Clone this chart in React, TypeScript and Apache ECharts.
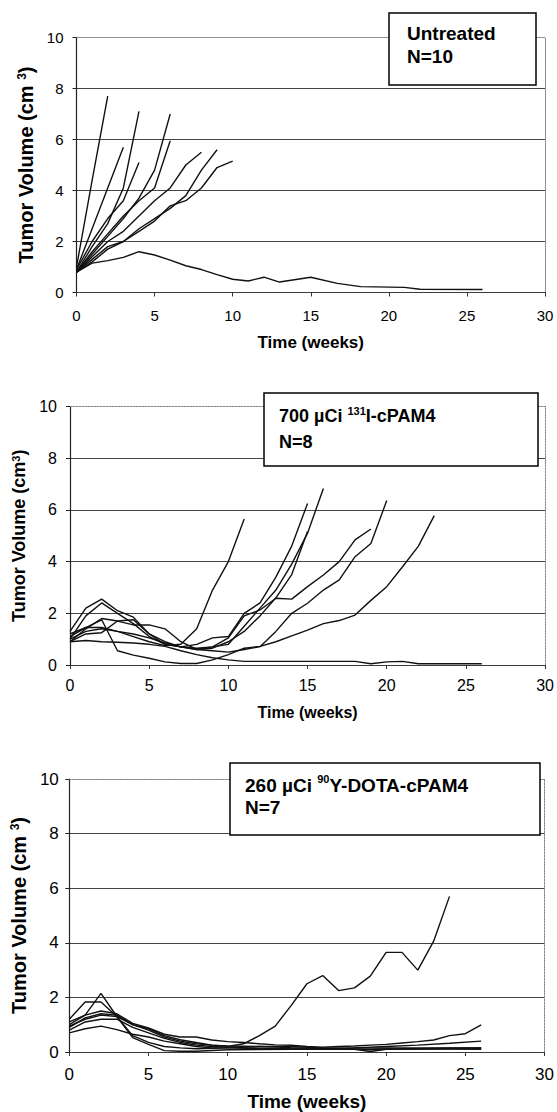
import React, { useEffect, useRef } from "react";
import * as echarts from "echarts";

// ---------- DATA ----------
const weekTicks = [0, 5, 10, 15, 20, 25, 30];
const volumeTicks = [0, 2, 4, 6, 8, 10];

// Panel 1: Untreated (N=10) — [week, volume cm3]
const untreated1 = [[0, 1.0], [1, 4.4], [2, 7.7]];
const untreated2 = [[0, 0.9], [1, 2.5], [2, 4.1], [3, 5.7]];
const untreated3 = [[0, 0.8], [1, 1.8], [2, 2.7], [3, 4.1], [4, 7.1]];
const untreated4 = [[0, 0.9], [1, 2.0], [2, 2.9], [3, 3.6], [4, 5.1]];
const untreated5 = [[0, 0.8], [1, 1.5], [2, 2.2], [3, 2.9], [4, 3.7], [5, 4.8], [6, 7.0]];
const untreated6 = [[0, 0.8], [1, 1.6], [2, 2.3], [3, 3.0], [4, 3.6], [5, 4.1], [6, 5.95]];
const untreated7 = [[0, 0.8], [1, 1.4], [2, 2.0], [3, 2.4], [4, 3.0], [5, 3.6], [6, 4.1], [7, 5.0], [8, 5.5]];
const untreated8 = [[0, 0.8], [1, 1.3], [2, 1.8], [3, 2.0], [4, 2.5], [5, 2.9], [6, 3.3], [7, 3.8], [8, 4.8], [9, 5.6]];
const untreated9 = [[0, 0.8], [1, 1.2], [2, 1.7], [3, 2.0], [4, 2.4], [5, 2.8], [6, 3.4], [7, 3.6], [8, 4.1], [9, 4.9], [10, 5.15]];
const untreated10 = [[0, 0.8], [1, 1.15], [2, 1.25], [3, 1.38], [4, 1.6], [5, 1.47], [6, 1.27], [7, 1.05], [8, 0.9], [9, 0.7], [10, 0.52], [11, 0.45], [12, 0.6], [13, 0.41], [15, 0.6], [16.7, 0.36], [18.2, 0.23], [21, 0.2], [22, 0.13], [26, 0.12]];

// Panel 2: 700 µCi 131I-cPAM4 (N=8)
const iodine1 = [[0, 1.0], [1, 1.3], [2, 1.4], [3, 1.3], [4, 1.1], [5, 0.9], [6, 0.75], [7, 0.8], [8, 1.4], [9, 2.9], [10, 4.0], [11, 5.65]];
const iodine2 = [[0, 1.3], [1, 2.2], [2, 2.55], [3, 2.1], [4, 1.85], [5, 1.2], [6, 0.8], [7, 0.7], [8, 0.8], [9, 1.05], [10, 1.1], [11, 2.0], [12, 2.4], [13, 3.4], [14, 4.6], [15, 6.25]];
const iodine3 = [[0, 1.0], [1, 1.9], [2, 2.4], [3, 2.0], [4, 1.6], [5, 1.1], [6, 0.8], [7, 0.7], [8, 0.65], [9, 0.7], [10, 0.8], [11, 1.5], [12, 2.2], [13, 2.9], [14, 3.9], [15, 5.1], [16, 6.83]];
const iodine4 = [[0, 0.9], [1, 1.4], [2, 1.8], [3, 1.7], [4, 1.75], [5, 1.2], [6, 0.9], [7, 0.7], [8, 0.6], [9, 0.65], [10, 0.9], [11, 1.3], [12, 1.9], [13, 2.6], [14, 3.5], [15, 5.16]];
const iodine5 = [[0, 1.1], [1, 1.45], [2, 1.45], [3, 1.3], [4, 1.2], [5, 1.05], [6, 0.85], [7, 0.7], [8, 0.6], [9, 0.7], [10, 1.05], [11, 1.9], [12, 2.13], [13, 2.58], [14, 2.55], [15, 3.03], [16, 3.48], [17, 4.0], [18, 4.84], [19, 5.26]];
const iodine6 = [[0, 0.9], [1, 1.2], [2, 1.25], [3, 1.7], [4, 1.55], [5, 1.55], [6, 1.4], [7, 0.9], [8, 0.6], [9, 0.55], [10, 0.5], [11, 0.6], [12, 0.71], [13, 1.3], [14, 2.0], [15, 2.39], [16, 2.9], [17, 3.29], [18, 4.19], [19, 4.7], [20, 6.36]];
const iodine7 = [[0, 1.2], [1, 1.45], [2, 1.75], [3, 0.55], [4, 0.38], [5, 0.26], [6, 0.12], [7, 0.06], [8, 0.06], [9, 0.2], [10, 0.4], [11, 0.65], [12, 0.72], [13, 0.9], [14, 1.13], [15, 1.35], [16, 1.6], [17, 1.72], [18, 1.93], [19, 2.5], [20, 3.03], [21, 3.8], [22, 4.6], [23, 5.78]];
const iodine8 = [[0, 0.9], [1, 0.95], [2, 0.9], [3, 0.88], [4, 0.85], [5, 0.8], [6, 0.72], [7, 0.55], [8, 0.4], [9, 0.28], [10, 0.2], [11, 0.14], [18, 0.14], [19, 0.05], [20, 0.12], [21, 0.14], [22, 0.05], [26, 0.05]];

// Panel 3: 260 µCi 90Y-DOTA-cPAM4 (N=7)
const yttrium1 = [[0, 0.9], [1, 1.25], [2, 1.4], [3, 1.35], [4, 1.0], [5, 0.85], [6, 0.6], [7, 0.45], [8, 0.35], [9, 0.25], [10, 0.2], [11, 0.3], [12, 0.6], [13, 0.95], [14, 1.7], [15, 2.5], [16, 2.8], [17, 2.25], [18, 2.35], [19, 2.78], [20, 3.65], [21, 3.65], [22, 3.0], [23, 4.06], [24, 5.7]];
const yttrium2 = [[0, 1.1], [1, 1.35], [2, 1.5], [3, 1.4], [4, 1.05], [5, 0.88], [6, 0.65], [7, 0.55], [8, 0.55], [9, 0.44], [10, 0.38], [11, 0.35], [12, 0.3], [13, 0.26], [14, 0.25], [15, 0.2], [16, 0.18], [17, 0.2], [18, 0.22], [19, 0.25], [20, 0.28], [21, 0.33], [22, 0.38], [23, 0.44], [24, 0.6], [25, 0.67], [26, 0.99]];
const yttrium3 = [[0, 0.95], [1, 1.2], [2, 1.35], [3, 1.3], [4, 1.0], [5, 0.8], [6, 0.55], [7, 0.4], [8, 0.3], [9, 0.25], [10, 0.22], [12, 0.2], [14, 0.16], [16, 0.14], [18, 0.15], [20, 0.2], [22, 0.25], [24, 0.32], [26, 0.4]];
const yttrium4 = [[0, 1.0], [1, 1.35], [2, 2.15], [3, 1.3], [4, 0.53], [5, 0.28], [6, 0.05], [7, 0.03], [8, 0.03], [10, 0.08], [14, 0.1], [18, 0.1], [22, 0.12], [26, 0.13]];
const yttrium5 = [[0, 1.2], [1, 1.83], [2, 1.83], [3, 1.3], [4, 0.6], [5, 0.35], [6, 0.2], [7, 0.15], [8, 0.12], [10, 0.15], [12, 0.2], [14, 0.2], [16, 0.15], [18, 0.1], [19, 0.02], [20, 0.1], [22, 0.12], [26, 0.1]];
const yttrium6 = [[0, 0.7], [1, 0.85], [2, 0.95], [3, 0.82], [4, 0.65], [5, 0.55], [6, 0.4], [7, 0.3], [8, 0.2], [9, 0.15], [10, 0.15], [12, 0.12], [14, 0.1], [16, 0.12], [18, 0.15], [22, 0.15], [26, 0.15]];
const yttrium7 = [[0, 0.8], [1, 1.1], [2, 1.2], [3, 1.2], [4, 0.9], [5, 0.7], [6, 0.5], [7, 0.35], [8, 0.25], [9, 0.2], [10, 0.18], [11, 0.15], [14, 0.12], [18, 0.1], [19, 0.08], [20, 0.1], [24, 0.14], [26, 0.15]];

const untreatedLines = [untreated1, untreated2, untreated3, untreated4, untreated5, untreated6, untreated7, untreated8, untreated9, untreated10];
const iodineLines = [iodine1, iodine2, iodine3, iodine4, iodine5, iodine6, iodine7, iodine8];
const yttriumLines = [yttrium1, yttrium2, yttrium3, yttrium4, yttrium5, yttrium6, yttrium7];

const xTitle = "Time (weeks)";

// ---------- LAYOUT ----------
const FONT = "'Liberation Sans', Arial, Helvetica, sans-serif";

const panels = [
  {
    lines: untreatedLines,
    grid: { left: 76.5, top: 37.5, width: 468.5, height: 255 },
    tickSize: 15, tickMarginX: 15, tickMarginY: 13,
    xTitleSize: 17, xNameGap: 41,
    yName: "{a|Tumor Volume (cm }{s|3}{a|)}", yTitleSize: 20, yNameGap: 39,
  },
  {
    lines: iodineLines,
    grid: { left: 70, top: 406.5, width: 476, height: 258.5 },
    tickSize: 16, tickMarginX: 12.5, tickMarginY: 13,
    xTitleSize: 16, xNameGap: 39,
    yName: "{a|Tumor Volume (cm}{s|3}{a|)}", yTitleSize: 18, yNameGap: 37,
  },
  {
    lines: yttriumLines,
    grid: { left: 69.3, top: 779, width: 476.7, height: 273.7 },
    tickSize: 17, tickMarginX: 14, tickMarginY: 10.5,
    xTitleSize: 19, xNameGap: 40,
    yName: "{a|Tumor Volume (cm }{s|3}{a|)}", yTitleSize: 20, yNameGap: 32,
  },
];

const legends = [
  { box: [389, 13, 147, 72], tx: 407, y1: 33, y2: 56, size: 19, line1: "{b|Untreated}", line2: "N=10" },
  { box: [264, 393, 274, 73], tx: 279, y1: 416, y2: 442, size: 18, line1: "{b|700 µCi }{s|131}{b|I-cPAM4}", line2: "N=8" },
  { box: [230, 763, 310, 72], tx: 245, y1: 785, y2: 807, size: 19, line1: "{b|260 µCi }{s|90}{b|Y-DOTA-cPAM4}", line2: "N=7" },
];

export default function App() {
  const ref = useRef<HTMLDivElement>(null);
  useEffect(() => {
    document.body.style.margin = "0";
    if (!ref.current) return;
    const chart = echarts.init(ref.current, undefined, { renderer: "svg" });

    const grids: any[] = [];
    const xAxes: any[] = [];
    const yAxes: any[] = [];
    const series: any[] = [];
    const graphics: any[] = [];

    panels.forEach((p, i) => {
      grids.push({ ...p.grid, containLabel: false });
      xAxes.push({
        type: "value", gridIndex: i, min: 0, max: 30, interval: 5, position: "bottom",
        name: xTitle, nameLocation: "middle", nameGap: p.xNameGap,
        nameTextStyle: { fontFamily: FONT, fontSize: p.xTitleSize, fontWeight: "bold", color: "#000" },
        axisLine: { show: true, onZero: false, lineStyle: { color: "#333", width: 1.2, type: [2, 1] } },
        axisTick: { show: true, length: 4, lineStyle: { color: "#333" } },
        axisLabel: { fontFamily: FONT, fontSize: p.tickSize, color: "#000", margin: p.tickMarginX,
          formatter: (v: number) => (weekTicks.includes(v) ? String(v) : "") },
        splitLine: { show: false },
      });
      xAxes.push({
        type: "value", gridIndex: i, min: 0, max: 30, position: "top",
        axisLine: { show: true, onZero: false, lineStyle: { color: "#888", width: 1, type: [2, 1] } },
        axisTick: { show: false }, axisLabel: { show: false }, splitLine: { show: false },
      });
      yAxes.push({
        type: "value", gridIndex: i, min: 0, max: 10, interval: 2, position: "left",
        name: p.yName, nameLocation: "middle", nameGap: p.yNameGap, nameRotate: 90,
        nameTextStyle: {
          fontFamily: FONT, fontSize: p.yTitleSize, fontWeight: "bold", color: "#000",
          rich: {
            a: { fontFamily: FONT, fontSize: p.yTitleSize, fontWeight: "bold", color: "#000" },
            s: { fontFamily: FONT, fontSize: Math.round(p.yTitleSize * 0.62), fontWeight: "bold", color: "#000", verticalAlign: "top" },
          },
        },
        axisLine: { show: true, onZero: false, lineStyle: { color: "#222", width: 1.2 } },
        axisTick: { show: true, length: 4, lineStyle: { color: "#222" } },
        axisLabel: { fontFamily: FONT, fontSize: p.tickSize, color: "#000", margin: p.tickMarginY,
          formatter: (v: number) => (volumeTicks.includes(v) ? String(v) : "") },
        splitLine: { show: true, showMinLine: false, showMaxLine: false, lineStyle: { color: "#444", width: 1 } },
      });
      yAxes.push({
        type: "value", gridIndex: i, min: 0, max: 10, position: "right",
        axisLine: { show: true, onZero: false, lineStyle: { color: "#888", width: 1, type: [2, 1] } },
        axisTick: { show: false }, axisLabel: { show: false }, splitLine: { show: false },
      });
      p.lines.forEach((d) => {
        series.push({
          type: "line", xAxisIndex: 2 * i, yAxisIndex: 2 * i, data: d,
          showSymbol: false, symbol: "none", smooth: false, silent: true,
          lineStyle: { color: "#111", width: 1.4 },
        });
      });
    });

    legends.forEach((l) => {
      graphics.push({
        type: "rect", shape: { x: l.box[0], y: l.box[1], width: l.box[2], height: l.box[3] },
        style: { fill: "#fff", stroke: "#000", lineWidth: 1.5 }, z: 100,
      });
      graphics.push({
        type: "text", x: l.tx, y: l.y1, z: 101,
        style: {
          text: l.line1, verticalAlign: "middle", align: "left",
          rich: {
            b: { fontFamily: FONT, fontSize: l.size, fontWeight: "bold", fill: "#000", lineHeight: l.size + 4, verticalAlign: "middle" },
            s: { fontFamily: FONT, fontSize: Math.round(l.size * 0.6), fontWeight: "bold", fill: "#000", verticalAlign: "top", lineHeight: l.size + 4 },
          },
        },
      });
      graphics.push({
        type: "text", x: l.tx, y: l.y2, z: 101,
        style: { text: l.line2, verticalAlign: "middle", align: "left", fontFamily: FONT, fontSize: l.size, fontWeight: "bold", fill: "#000" },
      });
    });

    chart.setOption({
      animation: false,
      backgroundColor: "#fff",
      grid: grids,
      xAxis: xAxes,
      yAxis: yAxes,
      series,
      graphic: graphics,
    });
    return () => chart.dispose();
  }, []);
  return <div ref={ref} style={{ width: 557, height: 1112 }} />;
}
